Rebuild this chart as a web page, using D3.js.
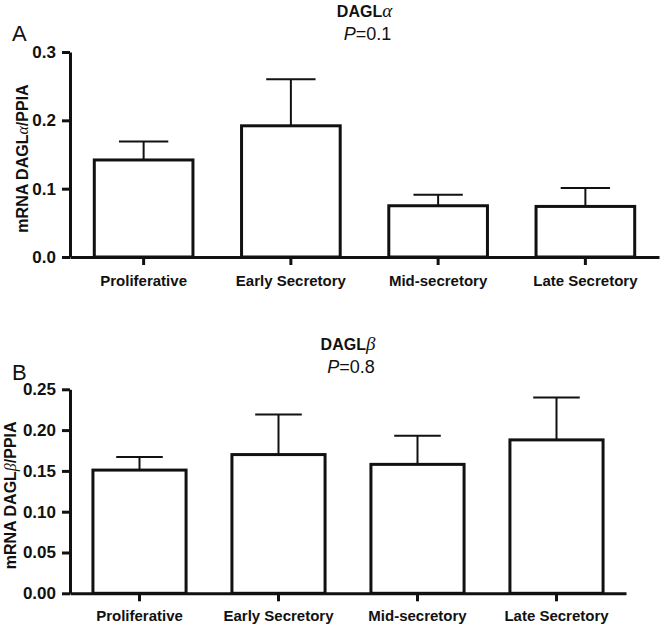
<!DOCTYPE html>
<html>
<head>
<meta charset="utf-8">
<script src="https://cdn.jsdelivr.net/npm/d3@7"></script>
<style>
  html, body { margin: 0; padding: 0; background: #fff; }
  svg { display: block; }
  text { font-family: "Liberation Sans", Arial, Helvetica, sans-serif; fill: #111; }
</style>
</head>
<body>
<svg id="chart" width="660" height="625"></svg>
<script>
// ---- data ----
const categories = ["Proliferative", "Early Secretory", "Mid-secretory", "Late Secretory"];
const daglAlphaMean = [0.142, 0.192, 0.075, 0.074];
const daglAlphaSEM  = [0.027, 0.068, 0.016, 0.027];
const daglBetaMean  = [0.151, 0.170, 0.158, 0.188];
const daglBetaSEM   = [0.016, 0.049, 0.035, 0.052];
const alphaTicks = [0, 0.1, 0.2, 0.3];
const alphaTickLabels = ["0.0", "0.1", "0.2", "0.3"];
const betaTicks = [0, 0.05, 0.10, 0.15, 0.20, 0.25];
const betaTickLabels = ["0.00", "0.05", "0.10", "0.15", "0.20", "0.25"];

const svg = d3.select("#chart");
const ink = "#111";

function panel(opts) {
  const g = svg.append("g");
  const x = d3.scaleBand().domain(categories).range(opts.xRange)
    .paddingInner(0.33).paddingOuter(0.165);
  const y = d3.scaleLinear().domain([0, opts.yMax]).range(opts.yRange);
  const data = categories.map((c, i) => ({ c, m: opts.mean[i], e: opts.sem[i] }));

  // error bars (above only)
  const eb = g.append("g").attr("stroke", ink).attr("stroke-width", 2).attr("fill", "none");
  eb.selectAll("line.v").data(data).join("line")
    .attr("x1", d => x(d.c) + x.bandwidth() / 2).attr("x2", d => x(d.c) + x.bandwidth() / 2)
    .attr("y1", d => y(d.m)).attr("y2", d => y(d.m + d.e));
  eb.selectAll("line.h").data(data).join("line")
    .attr("x1", d => x(d.c) + x.bandwidth() * 0.25).attr("x2", d => x(d.c) + x.bandwidth() * 0.75)
    .attr("y1", d => y(d.m + d.e)).attr("y2", d => y(d.m + d.e));

  // bars
  g.append("g").selectAll("rect").data(data).join("rect")
    .attr("x", d => x(d.c)).attr("width", x.bandwidth())
    .attr("y", d => y(d.m)).attr("height", d => y(0) - y(d.m))
    .attr("fill", "#fff").attr("stroke", ink).attr("stroke-width", 3);

  // x axis
  const xa = g.append("g").attr("transform", `translate(0,${y(0)})`)
    .call(d3.axisBottom(x).tickSize(8).tickSizeOuter(0).tickPadding(opts.xPad));
  xa.select(".domain").attr("stroke", ink).attr("stroke-width", 3);
  xa.selectAll(".tick line").attr("stroke", ink).attr("stroke-width", 3);
  xa.selectAll(".tick text").attr("font-size", 15).attr("font-weight", "bold")
    .attr("fill", ink).attr("font-family", "Liberation Sans, Arial, sans-serif");

  // y axis
  const ya = g.append("g").attr("transform", `translate(${opts.xRange[0]},0)`)
    .call(d3.axisLeft(y).tickValues(opts.ticks).tickFormat((d, i) => opts.tickLabels[i])
      .tickSize(8).tickSizeOuter(0).tickPadding(6));
  ya.select(".domain").attr("stroke", ink).attr("stroke-width", 3);
  ya.selectAll(".tick line").attr("stroke", ink).attr("stroke-width", 3);
  ya.selectAll(".tick text").attr("font-size", 17).attr("font-weight", "bold")
    .attr("fill", ink).attr("font-family", "Liberation Sans, Arial, sans-serif");

  // y axis title
  const yt = g.append("text")
    .attr("transform", `translate(${opts.yTitleX},${(y(0) + y(opts.yMax)) / 2 + 4}) rotate(-90)`)
    .attr("text-anchor", "middle").attr("font-size", 16).attr("font-weight", "bold");
  yt.append("tspan").text("mRNA DAGL");
  yt.append("tspan").attr("font-family", "Liberation Serif, serif").attr("font-style", "italic")
    .attr("font-weight", "normal").text(opts.greek);
  yt.append("tspan").text("/PPIA");

  // title
  const cx = (opts.xRange[0] + opts.xRange[1]) / 2;
  const t = g.append("text").attr("x", cx).attr("y", opts.titleY)
    .attr("text-anchor", "middle").attr("font-size", 16).attr("font-weight", "bold");
  t.append("tspan").text("DAGL");
  t.append("tspan").attr("font-family", "Liberation Serif, serif").attr("font-style", "italic")
    .attr("font-weight", "normal").attr("font-size", 19).text(opts.greek);
  const p = g.append("text").attr("x", cx + 3).attr("y", opts.titleY + 23)
    .attr("text-anchor", "middle").attr("font-size", 18);
  p.append("tspan").attr("font-style", "italic").text("P");
  p.append("tspan").text(opts.pText);

  // panel letter
  g.append("text").attr("x", 12).attr("y", opts.letterY).attr("font-size", 22).text(opts.letter);
}

panel({
  letter: "A", letterY: 41, greek: "α", pText: "=0.1", titleY: 17,
  mean: daglAlphaMean, sem: daglAlphaSEM, yMax: 0.3,
  ticks: alphaTicks, tickLabels: alphaTickLabels,
  xRange: [70, 659], yRange: [257, 52], yTitleX: 28, xPad: 10
});
panel({
  letter: "B", letterY: 380, greek: "β", pText: "=0.8", titleY: 350,
  mean: daglBetaMean, sem: daglBetaSEM, yMax: 0.25,
  ticks: betaTicks, tickLabels: betaTickLabels,
  xRange: [70, 626], yRange: [593.3, 389.3], yTitleX: 16, xPad: 9
});
</script>
</body>
</html>
